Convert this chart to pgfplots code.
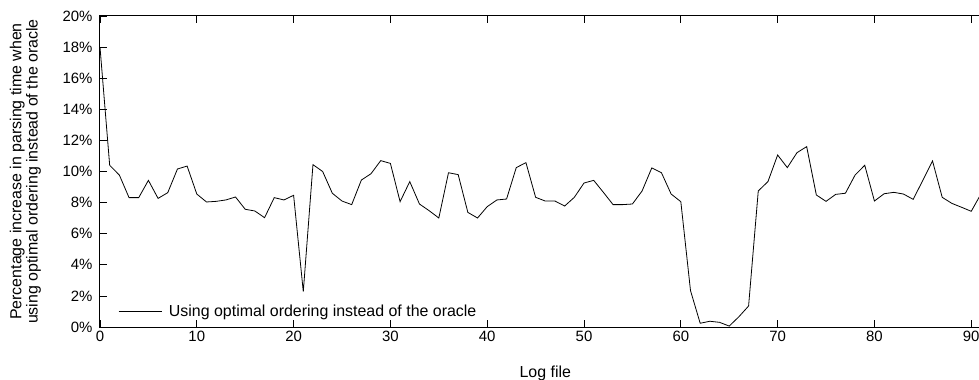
\documentclass[border=0pt]{standalone}
\usepackage{pgfplots}
\pgfplotsset{compat=1.18}
\usepackage{fontspec}
\setmainfont{Liberation Sans}
\begin{document}
\begin{tikzpicture}
\begin{axis}[
  scale only axis,
  width=890.6bp, height=311bp,
  xmin=0, xmax=92, ymin=0, ymax=20,
  xtick={0,10,...,90},
  ytick={0,2,...,20},
  yticklabel={\pgfmathprintnumber{\tick}\%},
  /pgf/number format/assume math mode=true,
  tick align=inside,
  major tick length=7bp,
  xtick pos=both, ytick pos=left,
  tick style={black, line width=0.8bp},
  axis line style={black, line width=1bp},
  ticklabel style={font=\fontsize{15}{17}\selectfont},
  xticklabel style={yshift=-1bp},
  yticklabel style={xshift=-4bp},
  xlabel={Log file},
  ylabel={Percentage increase in parsing time when\\using optimal ordering instead of the oracle},
  label style={font=\fontsize{16}{16.5}\selectfont},
  xlabel style={at={(axis description cs:0.5,-0.148)}, anchor=center},
  ylabel style={align=center, at={(axis description cs:-0.0838,0.5)}, anchor=center},
  legend style={at={(axis description cs:0.0168,0.015)}, anchor=south west, draw=none, fill=none, font=\fontsize{16}{18}\selectfont},
  legend cell align=left,
  legend image code/.code={\draw[#1, line width=0.8bp] (0bp,0bp) -- (43bp,0bp); \path (48bp,0bp);},
  clip=true,
]
\addplot[black, line width=0.8bp] coordinates {
(0,18.0) (1,10.4) (2,9.77) (3,8.32) (4,8.32) (5,9.43) (6,8.27) (7,8.64) (8,10.16) (9,10.35)
(10,8.55) (11,8.04) (12,8.08) (13,8.17) (14,8.36) (15,7.57) (16,7.46) (17,7.03) (18,8.32) (19,8.17)
(20,8.47) (21,2.27) (22,10.44) (23,10.0) (24,8.6) (25,8.1) (26,7.87) (27,9.45) (28,9.86) (29,10.7)
(30,10.52) (31,8.06) (32,9.35) (33,7.91) (34,7.48) (35,7.01) (36,9.92) (37,9.8) (38,7.37) (39,7.01)
(40,7.74) (41,8.17) (42,8.23) (43,10.25) (44,10.57) (45,8.34) (46,8.1) (47,8.1) (48,7.78) (49,8.34)
(50,9.26) (51,9.43) (52,8.66) (53,7.87) (54,7.87) (55,7.91) (56,8.75) (57,10.23) (58,9.92) (59,8.55)
(60,8.06) (61,2.34) (62,0.24) (63,0.37) (64,0.3) (65,0.06) (66,0.66) (67,1.35) (68,8.75) (69,9.35)
(70,11.06) (71,10.25) (72,11.21) (73,11.6) (74,8.49) (75,8.08) (76,8.53) (77,8.6) (78,9.77) (79,10.4)
(80,8.1) (81,8.57) (82,8.66) (83,8.55) (84,8.21) (85,9.43) (86,10.68) (87,8.34) (88,7.95) (89,7.7)
(90,7.44) (91,8.55)
};
\addlegendentry{Using optimal ordering instead of the oracle}
\end{axis}
\pgfresetboundingbox
\path[use as bounding box] (-100bp,-53bp) rectangle (879bp,327bp);
\end{tikzpicture}
\end{document}
